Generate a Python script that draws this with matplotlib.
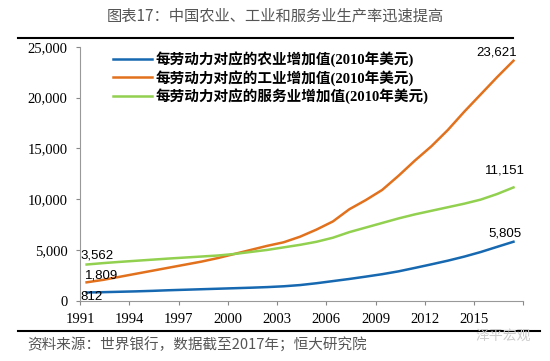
import matplotlib
matplotlib.use("Agg")
import matplotlib.pyplot as plt
import numpy as np

plt.rcParams['font.family'] = ['Liberation Serif', 'Noto Sans CJK SC', 'DejaVu Sans']

years = list(range(1991, 2018))
agri = [812, 840, 880, 920, 970, 1030, 1080, 1130, 1180, 1230, 1280, 1340, 1420,
        1540, 1720, 1930, 2140, 2370, 2610, 2890, 3230, 3580, 3940, 4340, 4790, 5300, 5805]
indu = [1809, 2050, 2350, 2650, 2950, 3250, 3550, 3850, 4200, 4600, 5000, 5400, 5750,
        6300, 7000, 7800, 9000, 9900, 10900, 12300, 13800, 15200, 16800, 18600, 20300, 22000, 23621]
serv = [3562, 3700, 3820, 3930, 4040, 4150, 4250, 4350, 4450, 4600, 4800, 5000, 5250,
        5500, 5800, 6200, 6750, 7200, 7650, 8100, 8500, 8850, 9200, 9550, 9950, 10500, 11151]
names = ['每劳动力对应的农业增加值(2010年美元)',
         '每劳动力对应的工业增加值(2010年美元)',
         '每劳动力对应的服务业增加值(2010年美元)']
colors = ['#1668b0', '#e2711d', '#92d050']
tick_years = [1991, 1994, 1997, 2000, 2003, 2006, 2009, 2012, 2015, 2018]

fig = plt.figure(figsize=(5.5, 3.61), dpi=100)
ax = fig.add_axes([0.1455, 0.167, 0.806, 0.7036])

x = np.array(years) - 1991 + 0.4
for vals, c, n in zip([agri, indu, serv], colors, names):
    ax.plot(x, vals, color=c, lw=1.8, label=n)

ax.set_xlim(0, 27)
ax.set_ylim(0, 25000)
ax.set_xticks([t - 1991 for t in tick_years])
ax.set_xticklabels([str(t) if t < 2018 else '' for t in tick_years])
ax.set_yticks(range(0, 25001, 5000))
ax.set_yticklabels(['0', '5,000', '10,000', '15,000', '20,000', '25,000'])
ax.tick_params(labelsize=10.5, color='#888888', length=3, pad=6)
for s in ['top', 'right']:
    ax.spines[s].set_visible(False)
for s in ['left', 'bottom']:
    ax.spines[s].set_color('#999999')

# data labels at start and end of series
lab_font = dict(family=['Liberation Sans', 'DejaVu Sans'], fontsize=9.5, color='black')
ax.text(0, serv[0] + 250, '{:,}'.format(serv[0]), ha='left', va='bottom', **lab_font)
ax.text(0.3, indu[0] + 50, '{:,}'.format(indu[0]), ha='left', va='bottom', **lab_font)
ax.text(0, agri[0] - 1000, '{:,}'.format(agri[0]), ha='left', va='bottom', **lab_font)
ax.text(x[-1] - 0.5, agri[-1] + 250, '{:,}'.format(agri[-1]), ha='center', va='bottom', **lab_font)
ax.text(x[-1] - 1.0, indu[-1] + 200, '{:,}'.format(indu[-1]), ha='center', va='bottom', **lab_font)
ax.text(x[-1] - 0.5, serv[-1] + 1100, '{:,}'.format(serv[-1]), ha='center', va='bottom', **lab_font)

leg = ax.legend(loc='upper left', bbox_to_anchor=(0.045, 1.035), frameon=False,
                handlelength=2.7, handletextpad=0.2, labelspacing=0.2,
                prop=dict(family=['Liberation Serif', 'Noto Sans CJK SC'], weight='bold', size=10.5))

fig.text(0.5, 0.955, '图表17：中国农业、工业和服务业生产率迅速提高', ha='center', va='center',
         fontsize=11, color='#555555', family=['Noto Sans CJK SC'])
fig.add_artist(plt.Line2D([0.033, 0.933], [0.896, 0.896], color='black', lw=1.5))
fig.add_artist(plt.Line2D([0.033, 0.982], [0.083, 0.083], color='black', lw=1.5))
fig.text(0.05, 0.043, '资料来源：世界银行，数据截至2017年；恒大研究院', ha='left', va='center',
         fontsize=10.5, color='#555555', style='italic', family=['Noto Sans CJK SC'])
fig.text(0.965, 0.07, '泽平宏观', ha='right', va='center', fontsize=10, color='#cccccc',
         family=['Noto Sans CJK SC'])

fig.savefig('out.png', dpi=100)
